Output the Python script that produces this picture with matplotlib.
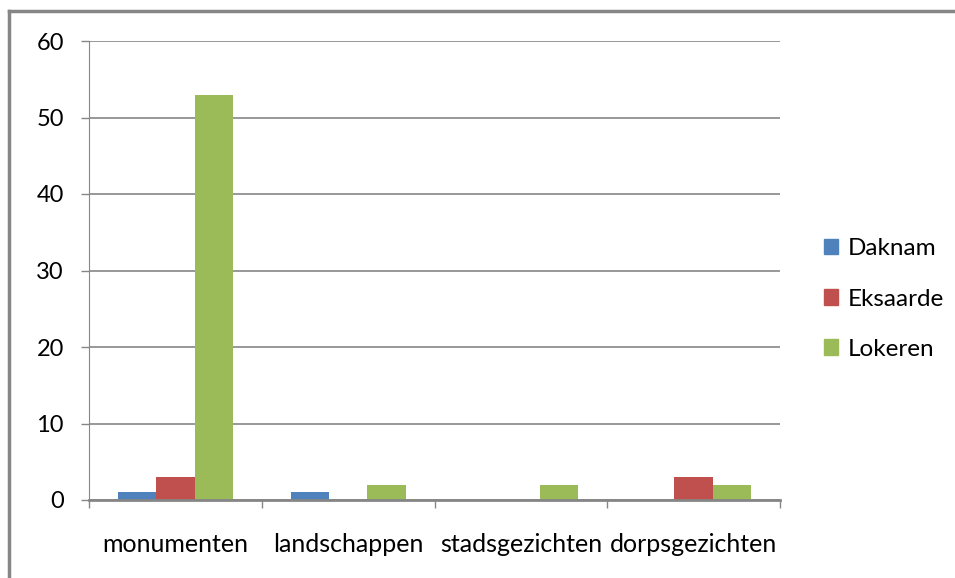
import numpy as np
import matplotlib.pyplot as plt
from matplotlib.lines import Line2D
from matplotlib.patches import Patch

categories = ['monumenten', 'landschappen', 'stadsgezichten', 'dorpsgezichten']
daknam = [1, 1, 0, 0]
eksaarde = [3, 0, 0, 3]
lokeren = [53, 2, 2, 2]
series = ['Daknam', 'Eksaarde', 'Lokeren']
colors = ['#4F81BD', '#C0504D', '#9BBB59']

plt.rcParams['font.family'] = ['Lato', 'DejaVu Sans']

fig = plt.figure(figsize=(9.55, 5.78), dpi=100)
ax = fig.add_axes([89 / 955, 1 - 500 / 578, (780 - 89) / 955, (500 - 41) / 578])

x = np.arange(len(categories))
w = 1 / 4.5
for i, (vals, c) in enumerate(zip([daknam, eksaarde, lokeren], colors)):
    ax.bar(x + (i - 1) * w, vals, w, color=c, zorder=3)

ax.set_xlim(-0.5, 3.5)
ax.set_ylim(0, 60)
ax.set_yticks(range(0, 61, 10))
ax.yaxis.grid(True, color='#868686', lw=1.2, zorder=0)
ax.set_xticks(np.arange(-0.5, 4, 1))
ax.set_xticklabels([])
ax.set_xticks(x, minor=True)
ax.set_xticklabels(categories, minor=True)
ax.tick_params(axis='x', which='major', length=6, color='#868686', width=1)
ax.tick_params(axis='x', which='minor', length=0, pad=24, labelsize=18)
ax.tick_params(axis='y', length=6, color='#868686', width=1, pad=12, labelsize=17)
for s in ['top', 'right']:
    ax.spines[s].set_visible(False)
ax.spines['left'].set_color('#868686')
ax.spines['bottom'].set_color('#868686')
ax.spines['bottom'].set_linewidth(2)
ax.spines['bottom'].set_zorder(4)

handles = [Patch(color=c, label=s) for s, c in zip(series, colors)]
fig.legend(handles=handles, loc='center left', bbox_to_anchor=(802 / 955, 1 - 299 / 578),
           frameon=False, fontsize=17.5, handlelength=0.6, handleheight=0.6,
           handletextpad=0.38, labelspacing=1.2)

# outer border
fig.add_artist(Line2D([8.5 / 955, 8.5 / 955], [0, 1 - 11 / 578], transform=fig.transFigure,
                      color='#868686', lw=2.5))
fig.add_artist(Line2D([8.5 / 955, 1], [1 - 11 / 578, 1 - 11 / 578], transform=fig.transFigure,
                      color='#868686', lw=2.5))

fig.savefig('out.png', dpi=100)
